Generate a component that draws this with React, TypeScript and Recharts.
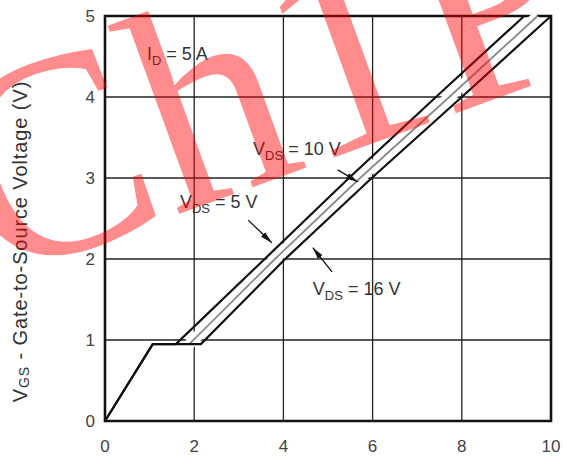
import { CartesianGrid, Label, Line, LineChart, ReferenceArea, ReferenceDot, XAxis, YAxis } from 'recharts';

// gate charge Qg (nC) vs gate-source voltage VGS (V), three drain voltages
const charge5 = [0, 1.07, 1.59, 3.58, 5.47, 7.42, 9.4];
const volt5 = [0, 0.95, 0.95, 2, 3, 4, 5];
const charge10 = [1.07, 1.89, 3.81, 5.72, 7.72, 9.7];
const volt10 = [0.95, 0.95, 2, 3, 4, 5];
const charge16 = [0, 1.07, 2.15, 4.04, 5.98, 8.0, 10];
const volt16 = [0, 0.95, 0.95, 2, 3, 4, 5];

const xTicks = [0, 2, 4, 6, 8, 10];
const yTicks = [0, 1, 2, 3, 4, 5];

// annotation arrows: [fromQ, fromV, toQ, toV]
const arrow10 = [5.22, 3.1, 5.67, 2.95];
const arrow5 = [3.21, 2.48, 3.74, 2.2];
const arrow16 = [5.09, 1.84, 4.66, 2.14];

// text labels: main, subscript, rest, position (q, v)
const notes = [
  { main: 'I', sub: 'D', rest: ' = 5 A', q: 0.94, v: 4.46 },
  { main: 'V', sub: 'DS', rest: ' = 10 V', q: 3.32, v: 3.28 },
  { main: 'V', sub: 'DS', rest: ' = 5 V', q: 1.68, v: 2.63 },
  { main: 'V', sub: 'DS', rest: ' = 16 V', q: 4.66, v: 1.56 },
];

const zip = (qs: number[], vs: number[]) => qs.map((q, i) => ({ q, v: vs[i] }));
const seg = (a: number[]) => [
  { q: a[0], v: a[1] },
  { q: a[2], v: a[3] },
];

const FONT = '"Liberation Sans", Arial, sans-serif';
const INK = '#333';

function NoteLabel(props: any) {
  const { viewBox, note } = props;
  const x = viewBox.x + viewBox.width / 2;
  const y = viewBox.y + viewBox.height / 2;
  return (
    <text x={x} y={y} fontFamily={FONT} fontSize={18} fill={INK}>
      <tspan>{note.main}</tspan>
      <tspan dy={5} fontSize={13}>
        {note.sub}
      </tspan>
      <tspan dy={-5}>{note.rest}</tspan>
    </text>
  );
}

function YTitle(props: any) {
  const { viewBox } = props;
  const cx = viewBox.x + 20;
  const cy = viewBox.y + viewBox.height / 2 + 23;
  return (
    <text
      x={cx}
      y={cy}
      transform={`rotate(-90 ${cx} ${cy})`}
      textAnchor="middle"
      dominantBaseline="central"
      fontFamily={FONT}
      fontSize={20}
      letterSpacing={0.9}
      fill={INK}
    >
      <tspan>V</tspan>
      <tspan dy={4} fontSize={14}>
        GS
      </tspan>
      <tspan dy={-4}> - Gate-to-Source Voltage (V)</tspan>
    </text>
  );
}

export default function App() {
  return (
    <div style={{ position: 'absolute', left: 0, top: 0, width: 563, height: 460, background: '#fff', overflow: 'hidden' }}>
      <svg width={0} height={0} style={{ position: 'absolute' }}>
        <defs>
          <marker id="arrowHead" viewBox="0 0 12 8" refX={12} refY={4} markerWidth={12} markerHeight={8} markerUnits="userSpaceOnUse" orient="auto">
            <path d="M0,1 L12,4 L0,7 z" fill="#111" />
          </marker>
        </defs>
      </svg>
      <LineChart width={563} height={460} margin={{ top: 16, right: 12, left: 0, bottom: 0 }}>
        <CartesianGrid stroke="#222" strokeWidth={1.3} horizontalValues={yTicks} verticalValues={xTicks} />
        <XAxis
          type="number"
          dataKey="q"
          domain={[0, 10]}
          ticks={xTicks}
          height={39}
          axisLine={false}
          tickLine={false}
          tickMargin={13}
          tick={{ fontSize: 17, fill: '#444', fontFamily: FONT }}
        />
        <YAxis
          type="number"
          dataKey="v"
          domain={[0, 5]}
          ticks={yTicks}
          width={105}
          axisLine={false}
          tickLine={false}
          tickMargin={4}
          tick={{ fontSize: 17, fill: '#444', fontFamily: FONT }}
        >
          <Label content={<YTitle />} />
        </YAxis>
        <ReferenceArea x1={0} x2={10} y1={0} y2={5} fill="none" stroke="#111" strokeWidth={2.6} />

        <Line data={zip(charge10.slice(1), volt10.slice(1))} dataKey="v" type="linear" stroke="#fff" strokeWidth={11} dot={false} isAnimationActive={false} />
        <Line data={zip(charge10, volt10)} dataKey="v" type="linear" stroke="#8a8a8a" strokeWidth={1.8} dot={false} isAnimationActive={false} />
        <Line data={zip(charge5, volt5)} dataKey="v" type="linear" stroke="#111" strokeWidth={2.2} dot={false} isAnimationActive={false} />
        <Line data={zip(charge16, volt16)} dataKey="v" type="linear" stroke="#111" strokeWidth={2.2} dot={false} isAnimationActive={false} />

        {[arrow10, arrow5, arrow16].map((a, i) => (
          <Line
            key={i}
            data={seg(a)}
            dataKey="v"
            type="linear"
            stroke="#111"
            strokeWidth={1.3}
            dot={false}
            markerEnd="url(#arrowHead)"
            isAnimationActive={false}
          />
        ))}

        {notes.map((n, i) => (
          <ReferenceDot key={i} x={n.q} y={n.v} r={1} fill="none" stroke="none" label={<NoteLabel note={n} />} />
        ))}
      </LineChart>
      <svg width={563} height={460} style={{ position: 'absolute', left: 0, top: 0, pointerEvents: 'none' }}>
        <text
          x={-8}
          y={282}
          transform="rotate(-20 -8 282)"
          fontFamily='"Liberation Serif", "Times New Roman", serif'
          fontSize={290}
          fill="rgba(255,0,0,0.45)"
        >
          Ch1P
        </text>
      </svg>
    </div>
  );
}
